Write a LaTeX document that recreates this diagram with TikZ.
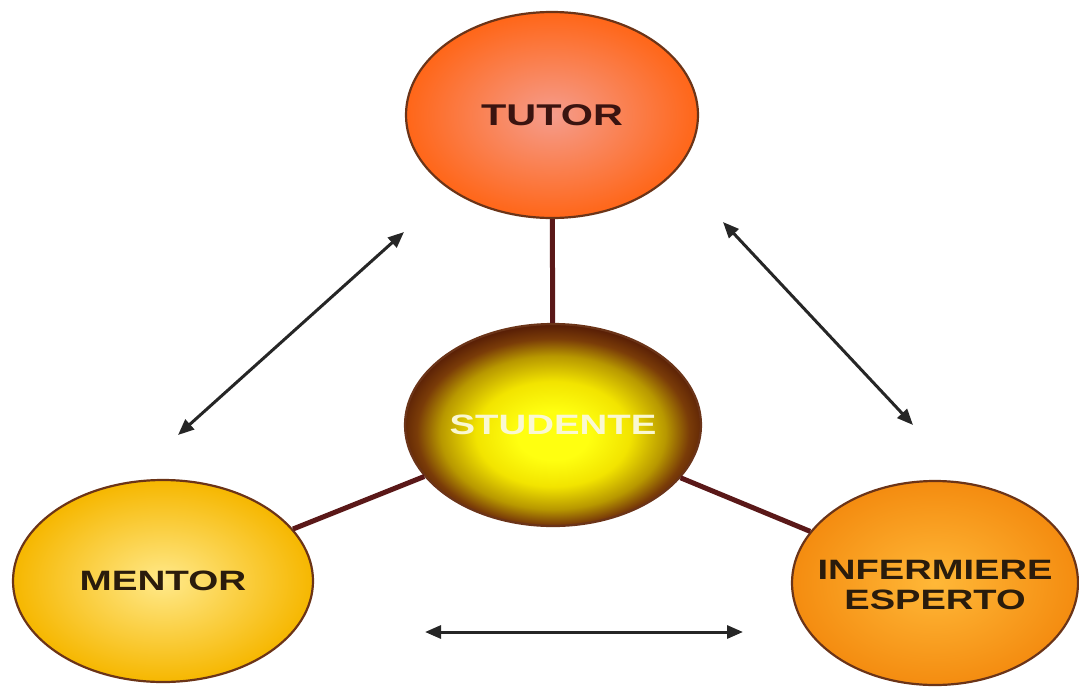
\documentclass[tikz,border=0pt]{standalone}
\usepackage{fontspec}
\setmainfont{Liberation Sans}
\usetikzlibrary{shapes.geometric,arrows.meta}
\definecolor{outl}{HTML}{6B3418}
\definecolor{linkc}{HTML}{5A1818}
\definecolor{tutorin}{HTML}{F59C8C}
\definecolor{tutorout}{HTML}{FF6618}
\definecolor{mentin}{HTML}{FFE98A}
\definecolor{mentout}{HTML}{F6B700}
\definecolor{infin}{HTML}{FFB838}
\definecolor{infout}{HTML}{F48C10}
\definecolor{tutortxt}{HTML}{3A1410}
\definecolor{darktxt}{HTML}{2A1C0C}
\definecolor{studtxt}{HTML}{FAF8D2}
\definecolor{studA}{HTML}{FFFF10}
\definecolor{studB}{HTML}{F2E400}
\definecolor{studC}{HTML}{B89800}
\definecolor{studD}{HTML}{7A3C08}
\definecolor{studE}{HTML}{5A2006}
\pgfdeclareradialshading{studshade}{\pgfpoint{0bp}{-3bp}}{%
  color(0bp)=(studA);
  color(6bp)=(studA);
  color(13bp)=(studB);
  color(19bp)=(studC);
  color(23bp)=(studD);
  color(26bp)=(studE);
  color(50bp)=(studE)}
\tikzset{
  ell/.style={ellipse, draw=outl, line width=2.2pt, inner sep=0pt},
  lbl/.style={font=\fontsize{28}{30}\selectfont\bfseries, align=center},
  link/.style={draw=linkc, line width=5pt},
  dblarrow/.style={draw=black!85, line width=3pt,
    {Triangle[length=16pt,width=13pt]}-{Triangle[length=16pt,width=13pt]}}
}
\begin{document}
\begin{tikzpicture}[x=1pt,y=-1pt]
\useasboundingbox (0,0) rectangle (1079,686);
\node[ell, minimum width=292pt, minimum height=206pt,
      shading=radial, inner color=tutorin, outer color=tutorout] (tutor) at (552,115) {};
\node[ell, minimum width=296pt, minimum height=202pt, shading=studshade] (stud) at (553,425) {};
\node[ell, minimum width=300pt, minimum height=202pt,
      shading=radial, inner color=mentin, outer color=mentout] (mentor) at (163,581) {};
\node[ell, minimum width=286pt, minimum height=204pt,
      shading=radial, inner color=infin, outer color=infout] (inf) at (935,583) {};
\draw[link] (tutor) -- (stud);
\draw[link] (stud) -- (mentor);
\draw[link] (stud) -- (inf);
% labels
\node[lbl, text=tutortxt, font=\fontsize{30}{32}\selectfont\bfseries] (tutorlbl) at (tutor.center) {\scalebox{1.38}[1]{TUTOR}};
\node[lbl, text=studtxt] (studlbl) at (stud.center) {\scalebox{1.37}[1]{STUDENTE}};
\node[lbl, text=darktxt] (mentorlbl) at (mentor.center) {\scalebox{1.38}[1]{MENTOR}};
\node[lbl, text=darktxt] (inflbl) at ([yshift=-2pt]inf.center) {\scalebox{1.36}[1]{INFERMIERE}\\\scalebox{1.36}[1]{ESPERTO}};
% free double arrows
\coordinate (a1) at (178,435);
\coordinate (a2) at (404,232);
\coordinate (b1) at (723,222);
\coordinate (b2) at (913,425);
\coordinate (c1) at (425,632);
\coordinate (c2) at (743,632);
\draw[dblarrow] (a1) -- (a2);
\draw[dblarrow] (b1) -- (b2);
\draw[dblarrow] (c1) -- (c2);
\end{tikzpicture}
\end{document}
